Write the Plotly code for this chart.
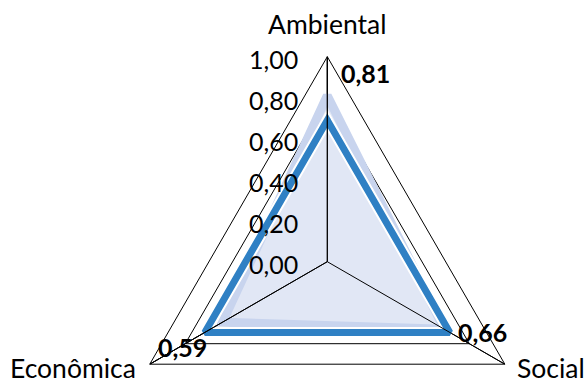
import plotly.graph_objects as go

# Eixos do radar e valores de cada série
categorias = ["Ambiental", "Social", "Econômica"]
indice = [0.81, 0.66, 0.59]
media = [0.69, 0.69, 0.69]

# Escala radial
escala_valores = [0.0, 0.2, 0.4, 0.6, 0.8, 1.0]
escala_rotulos = ["0,00", "0,20", "0,40", "0,60", "0,80", "1,00"]

FONTE = "Lato"
W, H = 585, 470              # canvas taller than the visible page so the radar can sit low
CX, CY, R = 327.3, 261.7, 205  # radar centre (px from top-left) and outer radius (px)


def fechar(v):
    """Repeat the first two points so the outline closes with a proper corner join."""
    return list(v) + list(v[:2])


def rotulo(v):
    return f"{v:.2f}".replace(".", ",")


def px_para_papel(px, py):
    return px / W, (H - py) / H


fig = go.Figure()

# Série principal: área preenchida com contorno azul claro
fig.add_trace(go.Scatterpolar(
    r=fechar(indice), theta=fechar(categorias), mode="lines",
    fill="toself", fillcolor="#e1e7f5",
    line=dict(color="#c8d4ee", width=9),
    hoverinfo="skip", showlegend=False,
))

# Série da média: linha azul com halo branco
fig.add_trace(go.Scatterpolar(
    r=fechar(media), theta=fechar(categorias), mode="lines",
    line=dict(color="white", width=11),
    hoverinfo="skip", showlegend=False,
))
fig.add_trace(go.Scatterpolar(
    r=fechar(media), theta=fechar(categorias), mode="lines",
    line=dict(color="#2f80c4", width=7),
    hoverinfo="skip", showlegend=False,
))

# Raios do radar desenhados por cima das áreas
fig.add_trace(go.Scatterpolar(
    r=[1, 0, 1, 0, 1],
    theta=[categorias[1], categorias[1], categorias[2], categorias[2], categorias[0]],
    mode="lines", line=dict(color="black", width=1),
    hoverinfo="skip", showlegend=False,
))

anotacoes = []

# Rótulos de dados (centro de cada rótulo, em px da página)
pos_rotulos = [(365, 73), (482.5, 332), (182.5, 346.5)]
for v, (px, py) in zip(indice, pos_rotulos):
    x, y = px_para_papel(px, py)
    anotacoes.append(dict(
        x=x, y=y, xref="paper", yref="paper",
        text=f"<b>{rotulo(v)}</b>", showarrow=False,
        xanchor="center", yanchor="middle",
        font=dict(family=FONTE, size=25, color="black"),
    ))

# Nomes dos eixos (âncora e posição em px da página)
pos_eixos = [((327.3, 24), "center"), ((515, 368), "left"), ((138, 368), "right")]
for nome, ((px, py), ancora) in zip(categorias, pos_eixos):
    x, y = px_para_papel(px, py)
    anotacoes.append(dict(
        x=x, y=y, xref="paper", yref="paper",
        text=nome, showarrow=False,
        xanchor=ancora, yanchor="middle",
        font=dict(family=FONTE, size=26.5, color="black"),
    ))

fig.update_layout(
    width=W, height=H,
    margin=dict(l=0, r=0, t=0, b=0),
    paper_bgcolor="white",
    showlegend=False,
    annotations=anotacoes,
    polar=dict(
        domain=dict(x=[(CX - R) / W, (CX + R) / W],
                    y=[(H - CY - R) / H, (H - CY + R) / H]),
        gridshape="linear",
        bgcolor="white",
        radialaxis=dict(
            range=[0, 1], tickvals=escala_valores, ticktext=escala_rotulos,
            angle=90, side="counterclockwise",
            showline=True, linecolor="black", linewidth=1,
            showgrid=True, gridcolor="black", gridwidth=1,
            ticks="outside", ticklen=6, tickcolor="rgba(0,0,0,0)",
            tickfont=dict(family=FONTE, size=25, color="black"),
            layer="above traces",
        ),
        angularaxis=dict(
            direction="clockwise", rotation=90,
            showline=True, linecolor="black", linewidth=1,
            showgrid=True, gridcolor="black", gridwidth=1,
            ticks="", showticklabels=False,
        ),
    ),
)

fig.write_html(
    "out.html",
    post_script=(
        "document.documentElement.style.overflow='hidden';"
        "document.body.style.overflow='hidden';"
        "document.body.style.margin='0';"
    ),
)
